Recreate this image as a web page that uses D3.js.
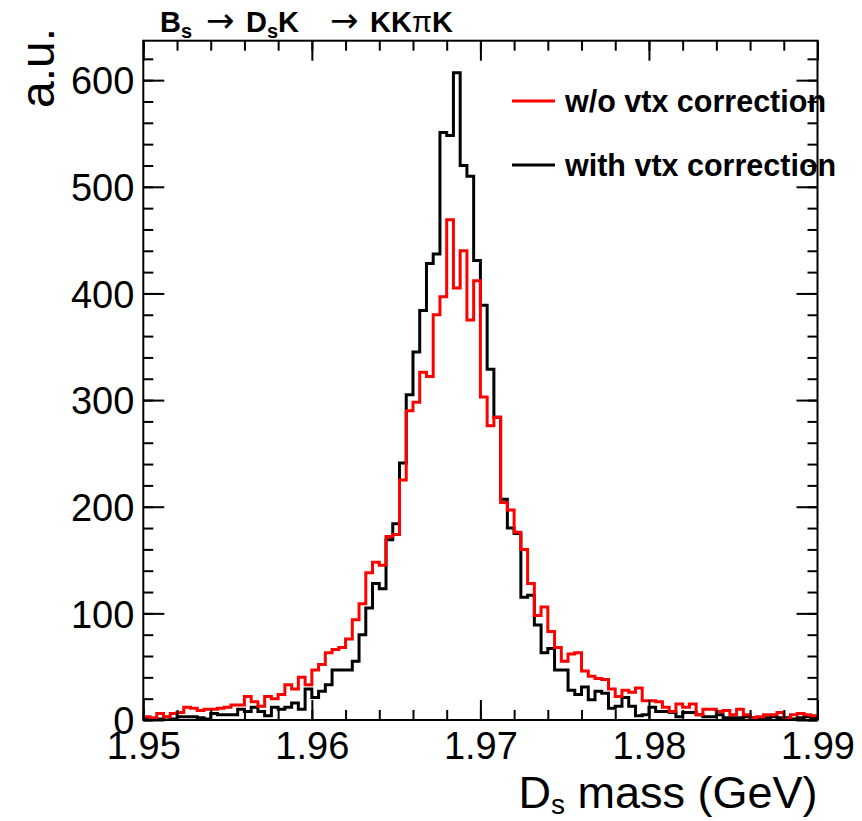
<!DOCTYPE html>
<html>
<head>
<meta charset="utf-8">
<script src="https://cdn.jsdelivr.net/npm/d3@7"></script>
<style>
  body { margin: 0; background: #fff; }
  svg { font-family: "Liberation Sans", Arial, sans-serif; }
  .tick text { font-family: "Liberation Sans", Arial, sans-serif; }
</style>
</head>
<body>
<div id="chart"></div>
<script>
// 100 bins of 0.0004 GeV from 1.95 to 1.99
const binStart = 1.95;
const binWidth = 0.0004;

const noCorrection = [
  3, 2, 6, 3, 6, 7, 12, 11, 9, 10,
  10, 11, 12, 14, 14, 22, 17, 13, 22, 20,
  24, 33, 29, 40, 33, 47, 52, 63, 66, 68,
  76, 94, 109, 138, 148, 145, 172, 174, 225, 290,
  298, 326, 322, 380, 397, 469, 405, 440, 375, 412,
  303, 276, 284, 204, 197, 176, 160, 128, 98, 106,
  83, 68, 55, 62, 63, 46, 41, 39, 38, 29,
  22, 28, 26, 30, 18, 18, 17, 12, 8, 15,
  12, 15, 5, 10, 10, 8, 9, 5, 10, 5,
  2, 3, 5, 5, 7, 1, 5, 6, 5, 4
];

const withCorrection = [
  1, 1, 1, 0, 1, 3, 3, 3, 2, 1,
  6, 5, 5, 5, 10, 8, 12, 8, 4, 12,
  10, 12, 16, 10, 29, 21, 27, 33, 47, 47,
  47, 55, 80, 105, 128, 123, 169, 184, 241, 305,
  345, 384, 428, 437, 551, 548, 607, 520, 510, 431,
  389, 329, 284, 207, 180, 175, 115, 117, 89, 63,
  67, 47, 47, 28, 24, 31, 19, 27, 25, 11,
  13, 21, 13, 4, 5, 12, 8, 8, 7, 3,
  7, 7, 5, 3, 3, 5, 2, 2, 2, 3,
  2, 1, 2, 3, 2, 2, 1, 2, 3, 2
];

const xMajor = [1.95, 1.96, 1.97, 1.98, 1.99];
const xTickLabels = ['1.95', '1.96', '1.97', '1.98', '1.99'];
const yMajor = [0, 100, 200, 300, 400, 500, 600];

const legendItems = [
  { label: 'w/o vtx correction', color: '#ff0000' },
  { label: 'with vtx correction', color: '#000000' }
];

const width = 862, height = 821;
const fLeft = 143.3, fRight = 817.5, fTop = 40.7, fBottom = 720;

const svg = d3.select('#chart').append('svg')
  .attr('width', width)
  .attr('height', height);

const x = d3.scaleLinear().domain([1.95, 1.99]).range([fLeft, fRight]);
const y = d3.scaleLinear().domain([0, 637]).range([fBottom, fTop]);

svg.append('clipPath').attr('id', 'frame')
  .append('rect')
  .attr('x', fLeft).attr('y', fTop)
  .attr('width', fRight - fLeft).attr('height', fBottom - fTop);

// histogram outlines
function steps(values) {
  const pts = values.map((v, i) => [binStart + i * binWidth, v]);
  pts.push([binStart + values.length * binWidth, values[values.length - 1]]);
  return pts;
}

const line = d3.line()
  .x(d => x(d[0]))
  .y(d => y(d[1]))
  .curve(d3.curveStepAfter);

const series = [
  { values: withCorrection, color: '#000000' },
  { values: noCorrection, color: '#ff0000' }
];

svg.append('g').attr('clip-path', 'url(#frame)')
  .selectAll('path')
  .data(series)
  .enter()
  .append('path')
  .attr('d', d => line(steps(d.values)))
  .attr('fill', 'none')
  .attr('stroke', d => d.color)
  .attr('stroke-width', 3)
  .attr('stroke-linejoin', 'miter');

// minor tick values
const xMinor = d3.range(0, 21).map(i => 1.95 + i * 0.002);
const yMinor = d3.range(0, 32).map(i => i * 20);

function styleAxis(g) {
  g.select('.domain').remove();
  g.selectAll('.tick line').attr('stroke', '#000').attr('stroke-width', 2);
}

// bottom axis
svg.append('g').attr('transform', `translate(0,${fBottom})`)
  .call(d3.axisBottom(x).tickValues(xMinor).tickSize(-10).tickFormat(''))
  .call(styleAxis);
svg.append('g').attr('transform', `translate(0,${fBottom})`)
  .call(d3.axisBottom(x).tickValues(xMajor).tickSize(-20)
    .tickFormat((d, i) => xTickLabels[i]))
  .call(styleAxis)
  .call(g => g.selectAll('.tick text')
    .attr('font-size', 38).attr('fill', '#000').attr('dy', '0.72em').attr('y', 12));

// top axis
svg.append('g').attr('transform', `translate(0,${fTop})`)
  .call(d3.axisTop(x).tickValues(xMinor).tickSize(-10).tickFormat(''))
  .call(styleAxis);
svg.append('g').attr('transform', `translate(0,${fTop})`)
  .call(d3.axisTop(x).tickValues(xMajor).tickSize(-20).tickFormat(''))
  .call(styleAxis);

// left axis
svg.append('g').attr('transform', `translate(${fLeft},0)`)
  .call(d3.axisLeft(y).tickValues(yMinor).tickSize(-10).tickFormat(''))
  .call(styleAxis);
svg.append('g').attr('transform', `translate(${fLeft},0)`)
  .call(d3.axisLeft(y).tickValues(yMajor).tickSize(-21))
  .call(styleAxis)
  .call(g => g.selectAll('.tick text')
    .attr('font-size', 38).attr('fill', '#000').attr('x', -9).attr('dy', '0.36em'));

// right axis
svg.append('g').attr('transform', `translate(${fRight},0)`)
  .call(d3.axisRight(y).tickValues(yMinor).tickSize(-10).tickFormat(''))
  .call(styleAxis);
svg.append('g').attr('transform', `translate(${fRight},0)`)
  .call(d3.axisRight(y).tickValues(yMajor).tickSize(-21).tickFormat(''))
  .call(styleAxis);

// frame
svg.append('rect')
  .attr('x', fLeft).attr('y', fTop)
  .attr('width', fRight - fLeft).attr('height', fBottom - fTop)
  .attr('fill', 'none')
  .attr('stroke', '#000')
  .attr('stroke-width', 2);

// axis titles
const xt = svg.append('text')
  .attr('x', fRight).attr('y', 808)
  .attr('text-anchor', 'end')
  .attr('font-size', 45);
xt.append('tspan').text('D');
xt.append('tspan').attr('font-size', 28).attr('dy', 6).text('s');
xt.append('tspan').attr('dy', -6).text(' mass (GeV)');

svg.append('text')
  .attr('transform', 'translate(54,28) rotate(-90)')
  .attr('text-anchor', 'end')
  .attr('font-size', 48)
  .text('a.u.');

// title
const title = svg.append('text')
  .attr('x', 160).attr('y', 32)
  .attr('font-size', 29)
  .attr('font-weight', 'bold');
const arrow = t => t.attr('font-weight', 'normal')
  .attr('font-family', '"DejaVu Sans", sans-serif')
  .attr('font-size', 34);
title.append('tspan').text('B');
title.append('tspan').attr('font-size', 20).attr('dy', 6).text('s');
title.append('tspan').attr('dy', -6).attr('x', 206).call(arrow).text('\u2192');
title.append('tspan').attr('x', 246).text('D');
title.append('tspan').attr('font-size', 20).attr('dy', 6).text('s');
title.append('tspan').attr('dy', -6).text('K');
title.append('tspan').attr('x', 330).call(arrow).text('\u2192');
title.append('tspan').attr('x', 370).text('KK');
title.append('tspan').attr('font-weight', 'normal').text('\u03c0');
title.append('tspan').text('K');

// legend
const legend = svg.append('g')
  .selectAll('g')
  .data(legendItems)
  .enter()
  .append('g')
  .attr('transform', (d, i) => `translate(512,${101 + i * 64})`);

legend.append('line')
  .attr('x1', 0).attr('x2', 43)
  .attr('stroke', d => d.color)
  .attr('stroke-width', 3);

legend.append('text')
  .attr('x', 53).attr('y', 11)
  .attr('font-size', 30.5)
  .attr('font-weight', 'bold')
  .text(d => d.label);
</script>
</body>
</html>
